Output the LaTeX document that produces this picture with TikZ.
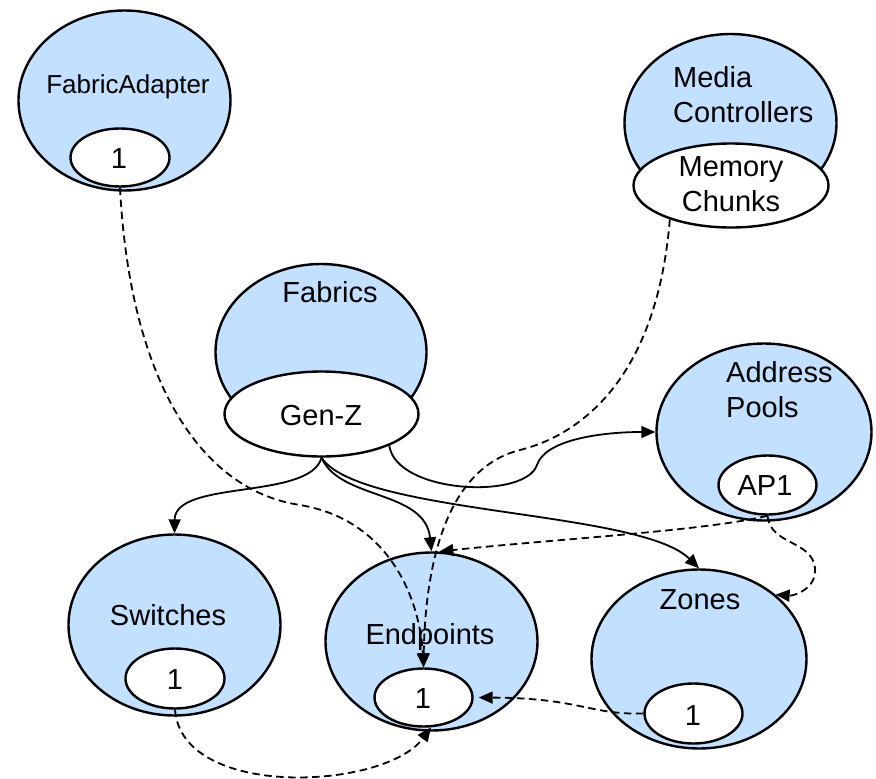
\documentclass[tikz,border=0pt]{standalone}
\usepackage{fontspec}
\setmainfont{Liberation Sans}
\usetikzlibrary{shapes.geometric,arrows.meta}
\definecolor{lblue}{RGB}{194,224,255}
\begin{document}
\begin{tikzpicture}[x=1pt,y=-1pt,
  outer/.style={ellipse,draw=black,fill=lblue,line width=2.4pt,inner sep=0pt},
  inner/.style={ellipse,draw=black,fill=white,line width=2.4pt,inner sep=0pt},
  lbl/.style={inner sep=0pt,font=\fontsize{29}{35}\selectfont},
  conn/.style={line width=1.8pt,-{Triangle[length=14pt,width=12pt]}},
  dconn/.style={conn,dash pattern=on 7.5pt off 4.5pt}]
\useasboundingbox (0,0) rectangle (876,779);
% outer ellipses
\node[outer,minimum width=212pt,minimum height=180pt] (fa) at (124.5,100.5) {};
\node[outer,minimum width=212pt,minimum height=178pt] (mc) at (730.5,123) {};
\node[outer,minimum width=211pt,minimum height=176pt] (fab) at (321,352) {};
\node[outer,minimum width=215pt,minimum height=177pt] (ap) at (764,432) {};
\node[outer,minimum width=212pt,minimum height=181pt] (sw) at (174.5,625) {};
\node[outer,minimum width=212pt,minimum height=178pt] (ep) at (431.5,641.5) {};
\node[outer,minimum width=215pt,minimum height=179pt] (zn) at (699,659) {};
% inner ellipses
\node[inner,minimum width=99pt,minimum height=58pt] (fa1) at (120,157.5) {};
\node[inner,minimum width=195pt,minimum height=84pt] (mcc) at (731,185.5) {};
\node[inner,minimum width=194pt,minimum height=85pt] (gz) at (321.5,414) {};
\node[inner,minimum width=98pt,minimum height=59pt] (ap1) at (767.5,485) {};
\node[inner,minimum width=99pt,minimum height=60pt] (sw1) at (175,678.5) {};
\node[inner,minimum width=98pt,minimum height=58pt] (ep1) at (423.5,697.5) {};
\node[inner,minimum width=98pt,minimum height=60pt] (zn1) at (693.5,713.5) {};
% texts
\node[lbl,anchor=base,font=\fontsize{26}{30}\selectfont] (tfa) at (128,93) {FabricAdapter};
\node[lbl,anchor=base] (tfa1) at (119,168) {1};
\node[lbl,anchor=north west,align=left] (tmc) at (673,66) {Media\\Controllers};
\node[lbl,anchor=north,align=center] (tmcc) at (731,156) {Memory\\Chunks};
\node[lbl,anchor=base] (tfab) at (330,302) {Fabrics};
\node[lbl,anchor=base] (tgz) at (321,425) {Gen-Z};
\node[lbl,anchor=north west,align=left] (tap) at (726,361) {Address\\Pools};
\node[lbl,anchor=base] (tap1) at (765,495) {AP1};
\node[lbl,anchor=base] (tsw) at (168,625) {Switches};
\node[lbl,anchor=base] (tsw1) at (175,689) {1};
\node[lbl,anchor=base] (tep) at (430,644) {Endpoints};
\node[lbl,anchor=base] (tep1) at (423,708) {1};
\node[lbl,anchor=base] (tzn) at (700,609) {Zones};
\node[lbl,anchor=base] (tzn1) at (693,725) {1};
% solid connectors
\draw[conn] (gz.south) .. controls +(-11.5,42.5) and +(0.5,-54) .. (sw.north);
\draw[conn] (gz.south) .. controls +(18.5,42.5) and +(-6.5,-61.5) .. (ep.north);
\draw[conn] (gz.south) .. controls +(38.5,57.5) and +(-59,-58.5) .. (zn.north);
\draw[conn] (gz.-25) .. controls +(7,48) and (525,500) .. (537,465) .. controls (545,440) and (600,432) .. (ap.west);
% dashed connectors
\draw[dconn] (fa1.south) .. controls (130,380) and (200,490) .. (300,505) .. controls (390,520) and (420,600) .. (ep1.north);
\draw[dconn] (mcc.209) .. controls (655,400) and (560,440) .. (520,450) .. controls (440,470) and (425,580) .. (ep1.north);
\draw[dconn] (ap1.south) .. controls +(-60,15) and +(110,-12) .. (ep.85);
\draw[dconn] (ap1.south) .. controls (770,545) and (812,540) .. (815,568) .. controls (817,588) and (795,596) .. (zn.40);
\draw[dconn] (sw1.south) .. controls (182,800) and (385,790) .. (ep1.-76);
\draw[dconn,shorten >=5pt] (zn1.west) .. controls (590,715) and (580,698) .. (ep1.east);
\end{tikzpicture}
\end{document}
